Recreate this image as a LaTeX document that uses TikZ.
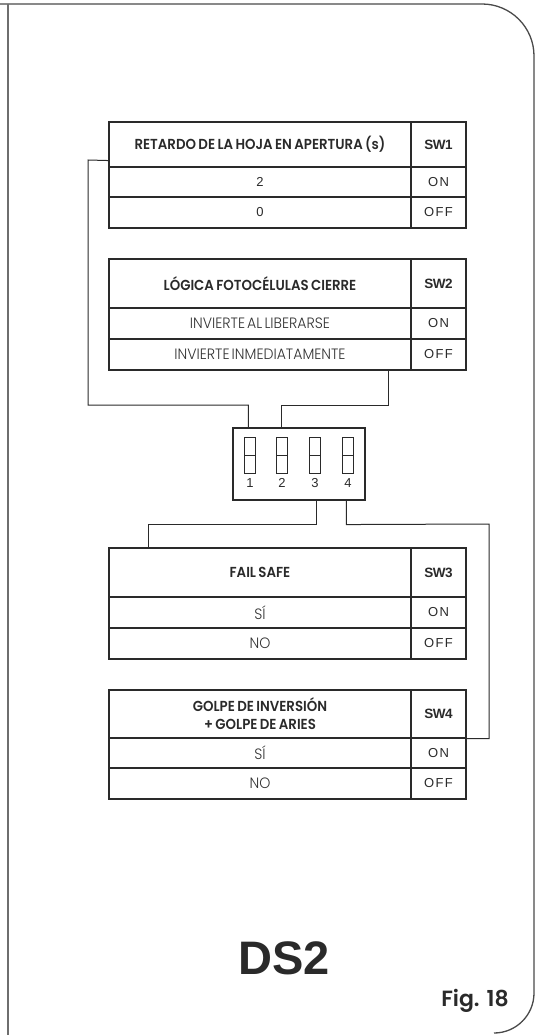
\documentclass[tikz,border=0pt]{standalone}
\usepackage{fontspec}
\setmainfont{Liberation Sans}[LetterSpace=10]
\newfontfamily\arialb{Liberation Sans}[UprightFont={* Bold}]
\newfontfamily\hdfont{Poppins}[BoldFont={* SemiBold},FakeStretch=0.92,WordSpace=0.75]
\newfontfamily\ltfont{Poppins}[UprightFont={* Light},FakeStretch=0.94,WordSpace=0.55]
\newfontfamily\bigfont{Poppins}[BoldFont={* SemiBold}]
\definecolor{ink}{HTML}{2A2A2A}
\definecolor{frame}{HTML}{4A4A4A}
\definecolor{lt}{HTML}{333333}
\begin{document}
\begin{tikzpicture}[x=1pt,y=-1pt,
  cell/.style={draw=ink,line width=1.1pt,inner sep=0pt,anchor=center},
  lcol/.style={cell,minimum width=302pt},
  rcol/.style={cell,minimum width=55pt},
  hdtxt/.style={font=\hdfont\bfseries\fontsize{14.5}{18}\selectfont,text=ink,align=center},
  swtxt/.style={font=\arialb\fontsize{13.5}{15}\selectfont\addfontfeature{LetterSpace=-4},text=ink},
  valtxt/.style={font=\fontsize{13}{15}\selectfont,text=ink},
  lttxt/.style={font=\ltfont\fontsize{15}{17}\selectfont,text=lt},
  wire/.style={draw=ink,line width=1pt},
  sw/.style={draw=ink,line width=0.9pt,minimum width=11pt,minimum height=18pt,inner sep=0pt},
  num/.style={font=\fontsize{13}{15}\selectfont,text=ink}]
\useasboundingbox (0,0) rectangle (538,1035);
% frame
\draw[draw=frame,line width=1.3pt] (0,4) -- (482,4) arc[start angle=-90,end angle=0,radius=52] -- (534,993) arc[start angle=0,end angle=90,radius=40];
\draw[draw=frame!80,line width=2pt] (8,4) -- (8,1035);
% table 1
\node[lcol,minimum height=45pt,hdtxt] (t1h) at (260,144.5) {RETARDO DE LA HOJA EN APERTURA (s)};
\node[rcol,minimum height=45pt,swtxt] (t1s) at (438.5,144.5) {SW1};
\node[lcol,minimum height=30pt,valtxt] (t1a) at (260,182) {2};
\node[rcol,minimum height=30pt,valtxt] (t1b) at (438.5,182) {ON};
\node[lcol,minimum height=31pt,valtxt] (t1c) at (260,212.5) {0};
\node[rcol,minimum height=31pt,valtxt] (t1d) at (438.5,212.5) {OFF};
% table 2
\node[lcol,minimum height=49pt,hdtxt] (t2h) at (260,283.5) {LÓGICA FOTOCÉLULAS CIERRE};
\node[rcol,minimum height=49pt,swtxt] (t2s) at (438.5,283.5) {SW2};
\node[lcol,minimum height=31pt,lttxt] (t2a) at (260,323.5) {INVIERTE AL LIBERARSE};
\node[rcol,minimum height=31pt,valtxt] (t2b) at (438.5,323.5) {ON};
\node[lcol,minimum height=31pt,lttxt] (t2c) at (260,354.5) {INVIERTE INMEDIATAMENTE};
\node[rcol,minimum height=31pt,valtxt] (t2d) at (438.5,354.5) {OFF};
% table 3
\node[lcol,minimum height=49pt,hdtxt] (t3h) at (260,572.5) {FAIL SAFE};
\node[rcol,minimum height=49pt,swtxt] (t3s) at (438.5,572.5) {SW3};
\node[lcol,minimum height=31pt,lttxt] (t3a) at (260,612.5) {SÍ};
\node[rcol,minimum height=31pt,valtxt] (t3b) at (438.5,612.5) {ON};
\node[lcol,minimum height=31pt,lttxt] (t3c) at (260,643.5) {NO};
\node[rcol,minimum height=31pt,valtxt] (t3d) at (438.5,643.5) {OFF};
% table 4
\node[lcol,minimum height=48pt,hdtxt] (t4h) at (260,714) {GOLPE DE INVERSIÓN\\+ GOLPE DE ARIES};
\node[rcol,minimum height=48pt,swtxt] (t4s) at (438.5,714) {SW4};
\node[lcol,minimum height=30pt,lttxt] (t4a) at (260,753) {SÍ};
\node[rcol,minimum height=30pt,valtxt] (t4b) at (438.5,753) {ON};
\node[lcol,minimum height=31pt,lttxt] (t4c) at (260,783.5) {NO};
\node[rcol,minimum height=31pt,valtxt] (t4d) at (438.5,783.5) {OFF};
% DIP switch
\node[draw=ink,line width=1.1pt,minimum width=132pt,minimum height=72pt,inner sep=0pt] (chip) at (299,464) {};
\foreach \i/\x in {1/250,2/282,3/315,4/348}{
  \node[sw] (s\i a) at (\x,446) {};
  \node[sw] (s\i b) at (\x,464) {};
  \node[num] (n\i) at (\x,483) {\i};
}
% connectors
\draw[wire] ([yshift=7pt]t1h.south west) -- (88,160) -- (88,405) -| ([xshift=16pt]chip.north west);
\draw[wire] ([xshift=-23pt]t2c.south east) -- ++(0,35) -| ([xshift=49pt]chip.north west);
\draw[wire] ([xshift=84pt]chip.south west) -- ++(0,24) -| ([xshift=40pt]t3h.north west);
\draw[wire] ([xshift=114pt]chip.south west) -- ++(0,24) -- (489,524) |- (t4s.south east);
% titles
\node[font=\arialb\fontsize{47}{52}\selectfont,text=ink] (ds) at (284,958) {DS2};
\node[font=\bigfont\bfseries\fontsize{22}{24}\selectfont,text=ink] (fig) at (475,1001) {Fig. 18};
\end{tikzpicture}
\end{document}
